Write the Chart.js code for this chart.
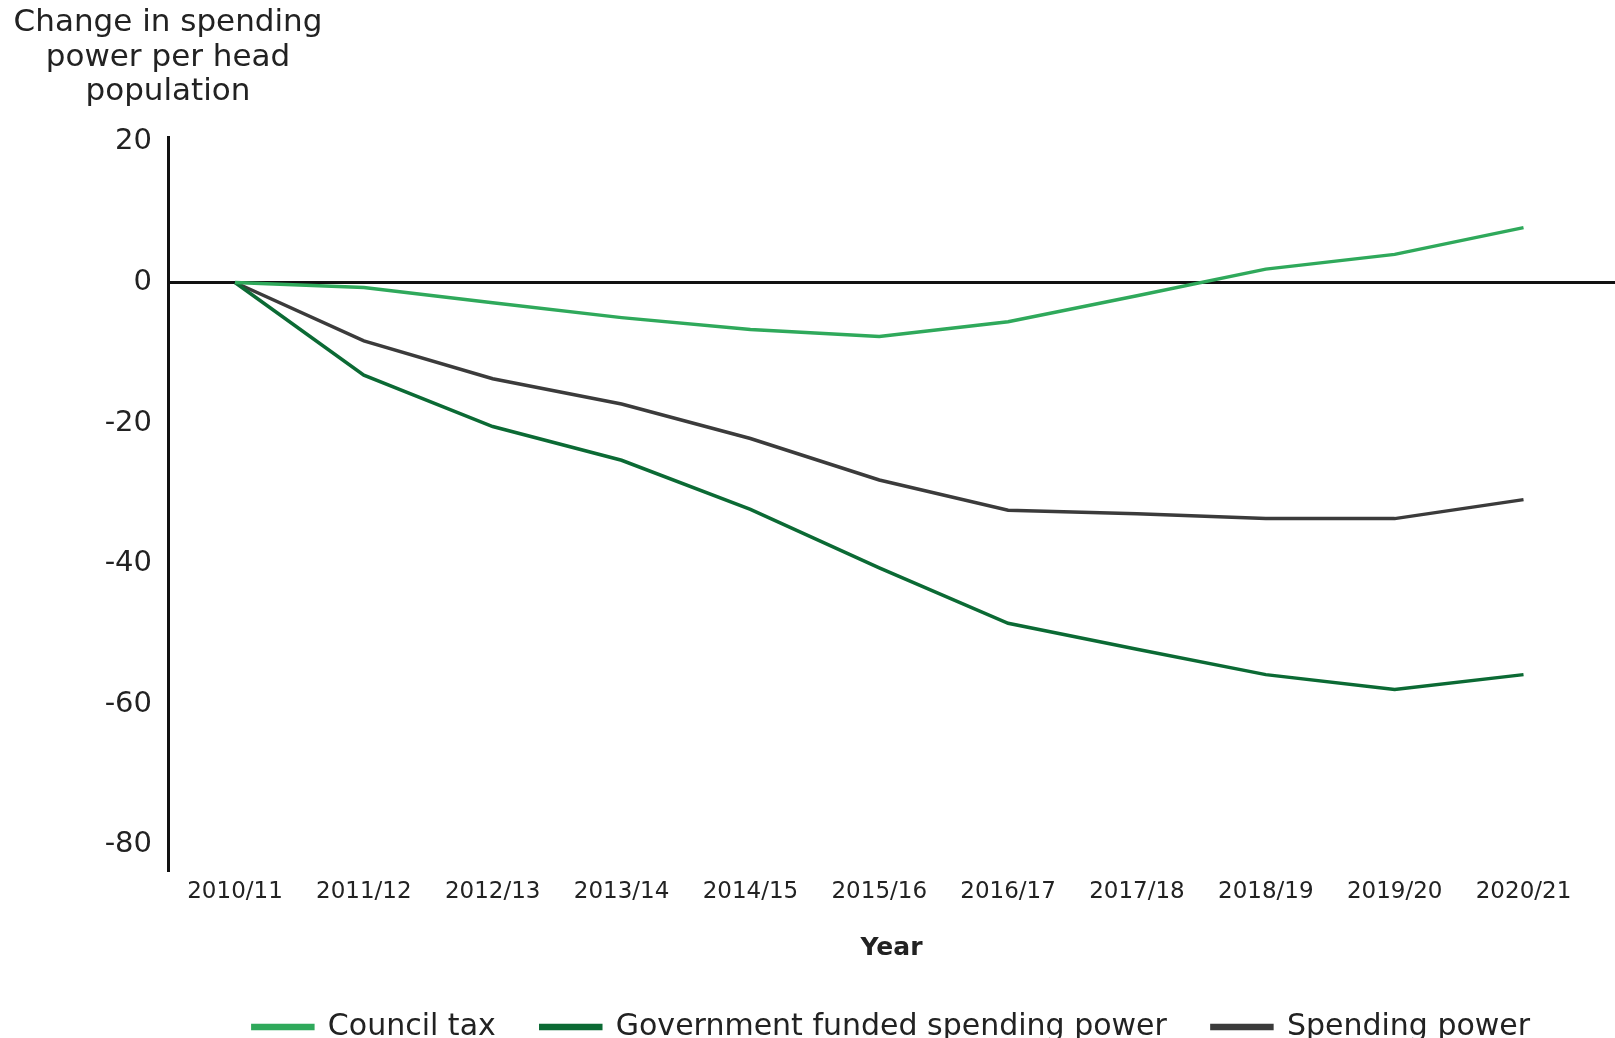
<!DOCTYPE html>
<html>
<head>
<meta charset="utf-8">
<script src="https://cdn.jsdelivr.net/npm/chart.js@4.4.1/dist/chart.umd.min.js"></script>
<style>
  html, body { margin: 0; padding: 0; overflow: hidden; background: #fff; }
  canvas { display: block; }
</style>
</head>
<body>
<canvas id="chart" width="1615" height="1052"></canvas>
<script>
const years = ['2010/11', '2011/12', '2012/13', '2013/14', '2014/15', '2015/16',
               '2016/17', '2017/18', '2018/19', '2019/20', '2020/21']
const councilTax = [0, -0.7, -2.9, -5.0, -6.7, -7.7, -5.6, -1.9, 1.9, 4.0, 7.8]
const governmentFunded = [0, -13.2, -20.5, -25.3, -32.3, -40.6, -48.5, -52.2, -55.8, -57.9, -55.8]
const spendingPower = [0, -8.3, -13.7, -17.3, -22.2, -28.1, -32.4, -32.9, -33.6, -33.6, -30.9]
const yTitle = ['Change in spending', 'power per head', 'population']
const xTitle = 'Year'

const font = '"DejaVu Sans", "Open Sans", sans-serif'
const textColor = '#222'

function points(values) {
    return values.map((v, i) => ({x: i, y: v}))
}

function series(label, values, color) {
    return {
        label: label,
        data: points(values),
        borderColor: color,
        backgroundColor: color,
        borderWidth: 3.5,
        pointRadius: 0,
        tension: 0
    }
}

// y axis title, three centred lines above the axis
const axisTitle = {
    id: 'axisTitle',
    afterDraw(chart) {
        const ctx = chart.ctx
        const x = chart.scales.y.right
        ctx.save()
        ctx.font = '31px ' + font
        ctx.fillStyle = textColor
        ctx.textAlign = 'center'
        ctx.textBaseline = 'middle'
        yTitle.forEach((line, i) => ctx.fillText(line, x, 23 + i * 34.5))
        ctx.restore()
    }
}

const chart = new Chart(document.querySelector('#chart'), {
    type: 'line',
    data: {
        datasets: [
            series('Council tax', councilTax, '#2fa95b'),
            series('Government funded spending power', governmentFunded, '#0b6a34'),
            series('Spending power', spendingPower, '#3b3b3b')
        ]
    },
    options: {
        responsive: false,
        animation: false,
        layout: { padding: { top: 137, left: 0, right: 0, bottom: 0 } },
        scales: {
            x: {
                type: 'linear',
                min: -0.52,
                max: 10.71,
                grid: { display: false, drawTicks: false },
                border: { display: false },
                ticks: {
                    stepSize: 1,
                    includeBounds: false,
                    autoSkip: false,
                    maxRotation: 0,
                    padding: 8,
                    color: textColor,
                    font: { family: font, size: 23 },
                    callback: v => years[v] ?? ''
                },
                title: {
                    display: true,
                    text: xTitle,
                    color: textColor,
                    font: { family: font, size: 25, weight: 'bold' }
                },
                afterFit(scale) { scale.height = 97 }
            },
            y: {
                min: -83.6,
                max: 20.7,
                grid: {
                    drawTicks: false,
                    color: c => c.tick && c.tick.value === 0 ? '#111' : 'rgba(0,0,0,0)',
                    lineWidth: 3
                },
                border: { display: true, color: '#111', width: 3 },
                ticks: {
                    stepSize: 20,
                    includeBounds: false,
                    padding: 16,
                    color: textColor,
                    font: { family: font, size: 29 }
                },
                afterFit(scale) { scale.width = 168 }
            }
        },
        plugins: {
            legend: {
                position: 'bottom',
                fullSize: false,
                labels: {
                    boxWidth: 60,
                    boxHeight: 3,
                    padding: 45,
                    color: textColor,
                    font: { family: font, size: 30 }
                }
            },
            tooltip: { enabled: false }
        }
    },
    plugins: [axisTitle]
})
</script>
</body>
</html>
